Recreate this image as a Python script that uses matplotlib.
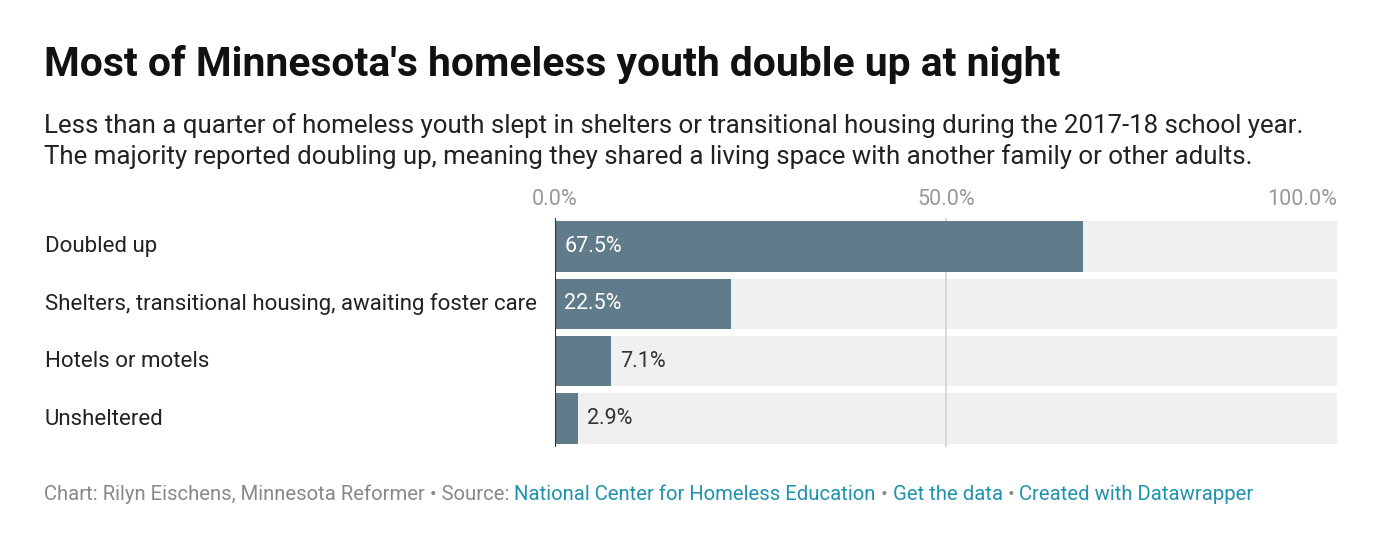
import matplotlib
matplotlib.use("Agg")
import matplotlib.pyplot as plt

categories = ["Doubled up", "Shelters, transitional housing, awaiting foster care", "Hotels or motels", "Unsheltered"]
values = [67.5, 22.5, 7.1, 2.9]
ticks = [0, 50, 100]
tick_labels = ["0.0%", "50.0%", "100.0%"]

plt.rcParams['font.family'] = ['Roboto', 'DejaVu Sans']
W, H = 1396, 534
fig = plt.figure(figsize=(W/100, H/100), dpi=100)
fig.patch.set_facecolor('white')
ax = fig.add_axes([555/W, 1-447/H, 782/W, (447-218)/H])
n = len(categories)
ys = list(range(n))
ax.barh(ys, [100]*n, height=0.88, color='#f0f0f0', zorder=0)
ax.axvline(50, color='#d9d9d9', lw=1.5, zorder=1)
ax.barh(ys, values, height=0.88, color='#607b8a', zorder=2)
ax.axvline(0, color='#333333', lw=1.5, zorder=3)
ax.set_xlim(0, 100)
ax.set_ylim(n-0.5, -0.5)
for s in ax.spines.values():
    s.set_visible(False)
ax.set_yticks([])
ax.xaxis.tick_top()
ax.set_xticks(ticks)
ax.set_xticklabels(tick_labels, color='#999999', fontsize=15.5)
ax.tick_params(axis='x', length=0, pad=6)
labs = ax.get_xticklabels()
labs[2].set_ha('right')
for y, v, c in zip(ys, values, categories):
    if v > 15:
        ax.text(1.2, y, f"{v}%", color='white', va='center', ha='left', fontsize=15.5, zorder=4)
    else:
        ax.text(v + 1.2, y, f"{v}%", color='#333333', va='center', ha='left', fontsize=15.5, zorder=4)
    ax.text(45/W, 1-(218+57.5*(y+0.5))/H, c, transform=fig.transFigure, va='center', ha='left',
            fontsize=16, color='#222222')

fig.text(44/W, 1-65/H, "Most of Minnesota's homeless youth double up at night", fontsize=29.3,
         fontweight='bold', color='#111111', va='center')
fig.text(44/W, 1-126/H, "Less than a quarter of homeless youth slept in shelters or transitional housing during the 2017-18 school year.",
         fontsize=18.6, color='#222222', va='center')
fig.text(44/W, 1-157/H, "The majority reported doubling up, meaning they shared a living space with another family or other adults.",
         fontsize=18.6, color='#222222', va='center')

parts = [("Chart: Rilyn Eischens, Minnesota Reformer • Source: ", '#888888'),
         ("National Center for Homeless Education", '#1f93ad'),
         (" • ", '#888888'), ("Get the data", '#1f93ad'),
         (" • ", '#888888'), ("Created with Datawrapper", '#1f93ad')]
fig.canvas.draw()
r = fig.canvas.get_renderer()
x = 44
for t, col in parts:
    tx = fig.text(x/W, 1-494/H, t, fontsize=14.6, color=col, va='center')
    x = tx.get_window_extent(r).x1
fig.savefig("out.png", dpi=100)
